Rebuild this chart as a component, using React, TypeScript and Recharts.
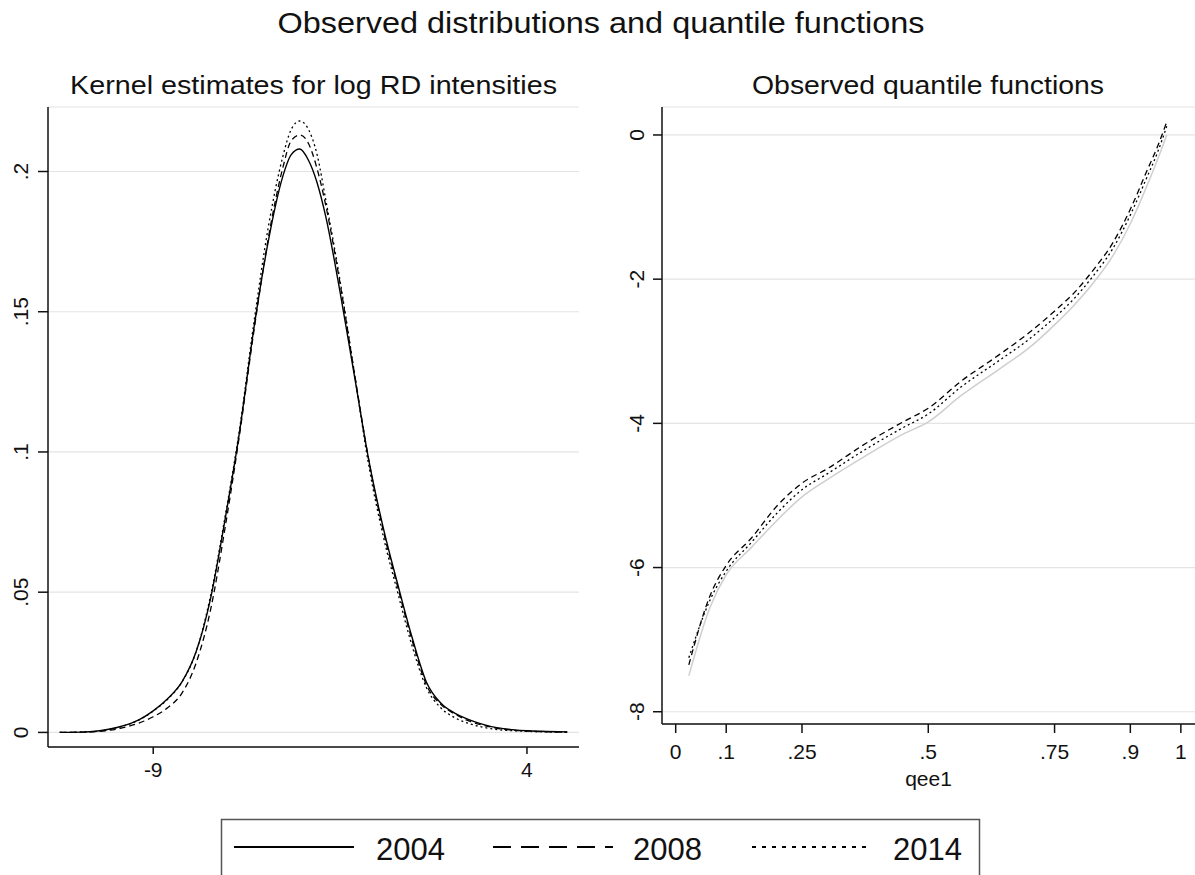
import React from 'react';
import { CartesianGrid, Line, LineChart, XAxis, YAxis } from 'recharts';

// kernel density estimates of log RD intensity
const kdeX = [-12.25, -11.5, -11, -10.5, -10, -9.5, -9, -8.5, -8, -7.5, -7, -6.5, -6, -5.5, -5, -4.5, -4.2, -3.9, -3.6, -3.3, -3, -2.5, -2, -1.5, -1, -0.5, 0, 0.5, 1, 1.5, 2, 2.5, 3, 3.5, 4, 4.5, 5.4];
const kde2004 = [0, 0.0001, 0.0004, 0.0012, 0.0025, 0.0045, 0.0077, 0.012, 0.018, 0.029, 0.048, 0.076, 0.107, 0.144, 0.175, 0.198, 0.206, 0.208, 0.204, 0.196, 0.184, 0.157, 0.127, 0.097, 0.073, 0.053, 0.034, 0.018, 0.0105, 0.0068, 0.0045, 0.0028, 0.0016, 0.001, 0.0006, 0.0004, 0.0002];
const kde2008 = [0, 0.0001, 0.0003, 0.0008, 0.0018, 0.0033, 0.0056, 0.0088, 0.014, 0.025, 0.044, 0.073, 0.106, 0.143, 0.176, 0.201, 0.211, 0.213, 0.21, 0.201, 0.188, 0.16, 0.128, 0.097, 0.072, 0.052, 0.033, 0.017, 0.01, 0.0065, 0.004, 0.0025, 0.0014, 0.0008, 0.0005, 0.0003, 0.0001];
const kde2014 = [0, 0.0001, 0.0004, 0.0011, 0.0024, 0.0044, 0.0076, 0.0118, 0.018, 0.029, 0.049, 0.077, 0.108, 0.146, 0.18, 0.205, 0.215, 0.218, 0.215, 0.206, 0.19, 0.161, 0.128, 0.095, 0.07, 0.05, 0.031, 0.016, 0.0088, 0.0052, 0.0031, 0.0018, 0.001, 0.0006, 0.0004, 0.0002, 0.0001];
const kdeXTicks = [-9, 4];
const kdeYTicks = [0, 0.05, 0.1, 0.15, 0.2];

// observed quantile functions
const qGrid = [0.026, 0.068, 0.1, 0.15, 0.2, 0.25, 0.3, 0.376, 0.45, 0.5, 0.564, 0.64, 0.7, 0.752, 0.79, 0.827, 0.865, 0.902, 0.932, 0.955, 0.972];
const q2004 = [-7.5, -6.55, -6.1, -5.72, -5.35, -5.02, -4.78, -4.45, -4.15, -3.98, -3.62, -3.25, -2.95, -2.62, -2.35, -2.05, -1.68, -1.2, -0.72, -0.32, 0.0];
const q2008 = [-7.35, -6.39, -5.97, -5.59, -5.15, -4.83, -4.63, -4.28, -3.98, -3.79, -3.42, -3.05, -2.74, -2.43, -2.18, -1.87, -1.5, -1.0, -0.51, -0.14, 0.18];
const q2014 = [-7.25, -6.45, -6.05, -5.65, -5.25, -4.92, -4.7, -4.36, -4.06, -3.87, -3.5, -3.13, -2.83, -2.52, -2.26, -1.95, -1.58, -1.08, -0.6, -0.22, 0.12];
const qXTicks = [0, 0.1, 0.25, 0.5, 0.75, 0.9, 1];
const qYTicks = [-8, -6, -4, -2, 0];

const years = ['2004', '2008', '2014'];

const kdeData = kdeX.map((x, i) => ({ x, y2004: kde2004[i], y2008: kde2008[i], y2014: kde2014[i] }));
const qData = qGrid.map((q, i) => ({ q, y2004: q2004[i], y2008: q2008[i], y2014: q2014[i] }));

const FONT = '"Liberation Sans", Arial, sans-serif';
const GRID = '#e4e4e4';
const TICK_FONT = 21;

// Stata style: ".25" instead of "0.25"
const stataNum = (v: number) => {
  const s = String(Math.round(v * 1000) / 1000);
  if (s.startsWith('0.')) return s.slice(1);
  if (s.startsWith('-0.')) return '-' + s.slice(2);
  return s;
};

const RotatedTick = (props: any) => {
  const { x, y, payload, shift } = props;
  const cx = x - shift;
  return (
    <text
      x={cx}
      y={y}
      transform={`rotate(-90, ${cx}, ${y})`}
      textAnchor="middle"
      dominantBaseline="central"
      fontFamily={FONT}
      fontSize={TICK_FONT}
      fill="#111"
    >
      {stataNum(payload.value)}
    </text>
  );
};

const xTickStyle = { fontFamily: FONT, fontSize: TICK_FONT, fill: '#111' };

const KdePanel = () => (
  <LineChart width={600} height={800} data={kdeData} margin={{ top: 107, right: 21, left: 0, bottom: 0 }}>
    <CartesianGrid vertical={false} stroke={GRID} strokeWidth={1.2} />
    <XAxis
      type="number"
      dataKey="x"
      domain={[-12.66, 5.81]}
      allowDataOverflow
      ticks={kdeXTicks}
      height={53}
      tickSize={7}
      tickMargin={8}
      stroke="#111"
      strokeWidth={1.5}
      tick={xTickStyle}
      tickFormatter={stataNum}
    />
    <YAxis
      type="number"
      domain={[-0.0052, 0.223]}
      allowDataOverflow
      ticks={kdeYTicks}
      width={48}
      tickSize={10}
      stroke="#111"
      strokeWidth={1.5}
      tick={<RotatedTick shift={15} />}
    />
    <Line type="monotone" dataKey="y2004" stroke="#000" strokeWidth={1.4} dot={false} isAnimationActive={false} />
    <Line type="monotone" dataKey="y2008" stroke="#000" strokeWidth={1.3} strokeDasharray="6 4" dot={false} isAnimationActive={false} />
    <Line type="monotone" dataKey="y2014" stroke="#000" strokeWidth={1.3} strokeDasharray="2 3" dot={false} isAnimationActive={false} />
  </LineChart>
);

const QuantilePanel = () => (
  <LineChart width={595} height={800} data={qData} margin={{ top: 107, right: 0, left: 0, bottom: 0 }}>
    <CartesianGrid vertical={false} stroke={GRID} strokeWidth={1.2} />
    <XAxis
      type="number"
      dataKey="q"
      domain={[-0.0271, 1.028]}
      allowDataOverflow
      ticks={qXTicks}
      height={76}
      tickSize={9}
      tickMargin={11}
      stroke="#111"
      strokeWidth={1.5}
      tick={xTickStyle}
      tickFormatter={stataNum}
      label={{ value: 'qee1', position: 'insideBottom', offset: 14, fontFamily: FONT, fontSize: TICK_FONT, fill: '#111' }}
    />
    <YAxis
      type="number"
      domain={[-8.17, 0.388]}
      allowDataOverflow
      ticks={qYTicks}
      width={62}
      tickSize={9}
      stroke="#111"
      strokeWidth={1.5}
      tick={<RotatedTick shift={14} />}
    />
    <Line type="monotone" dataKey="y2004" stroke="#cfcfcf" strokeWidth={1.5} dot={false} isAnimationActive={false} />
    <Line type="monotone" dataKey="y2008" stroke="#000" strokeWidth={1.3} strokeDasharray="6 4" dot={false} isAnimationActive={false} />
    <Line type="monotone" dataKey="y2014" stroke="#000" strokeWidth={1.3} strokeDasharray="2 3" dot={false} isAnimationActive={false} />
  </LineChart>
);

const legendItems = [
  { label: years[0], x1: 234, x2: 354, tx: 376, dash: undefined },
  { label: years[1], x1: 493, x2: 613, tx: 633, dash: '18 10' },
  { label: years[2], x1: 752, x2: 868, tx: 893, dash: '4 6' },
];

const Overlay = () => (
  <svg width={1195} height={875} style={{ position: 'absolute', left: 0, top: 0, pointerEvents: 'none' }}>
    <text x={601} y={33} textAnchor="middle" fontFamily={FONT} fontSize={29} textLength={647} lengthAdjust="spacingAndGlyphs" fill="#111">
      Observed distributions and quantile functions
    </text>
    <text x={313.5} y={94} textAnchor="middle" fontFamily={FONT} fontSize={26} textLength={487} lengthAdjust="spacingAndGlyphs" fill="#111">
      Kernel estimates for log RD intensities
    </text>
    <text x={928} y={94} textAnchor="middle" fontFamily={FONT} fontSize={26} textLength={352} lengthAdjust="spacingAndGlyphs" fill="#111">
      Observed quantile functions
    </text>
    <rect x={221.5} y={819.5} width={758} height={80} fill="none" stroke="#555" strokeWidth={1.5} />
    {legendItems.map((it) => (
      <g key={it.label}>
        <line x1={it.x1} x2={it.x2} y1={847} y2={847} stroke="#000" strokeWidth={2.2} strokeDasharray={it.dash} />
        <text x={it.tx} y={860} fontFamily={FONT} fontSize={31} fill="#111">
          {it.label}
        </text>
      </g>
    ))}
  </svg>
);

export default function App() {
  return (
    <div style={{ position: 'absolute', left: 0, top: 0, width: 1195, height: 875, background: '#fff', overflow: 'hidden' }}>
      <div style={{ position: 'absolute', left: 0, top: 0 }}>
        <KdePanel />
      </div>
      <div style={{ position: 'absolute', left: 600, top: 0 }}>
        <QuantilePanel />
      </div>
      <Overlay />
    </div>
  );
}
